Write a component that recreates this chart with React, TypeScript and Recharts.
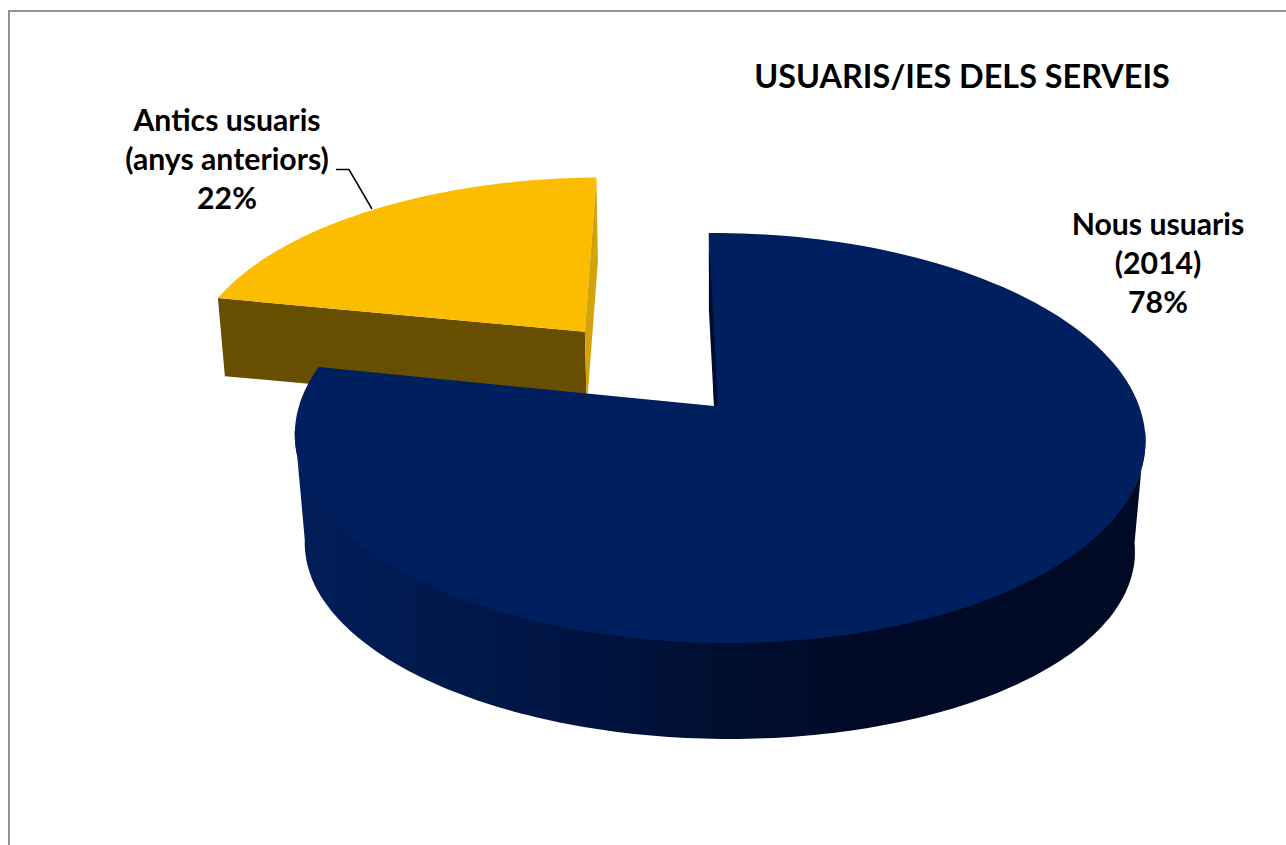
import { PieChart, Pie, Cell } from "recharts";

const CATEGORIES = ["Antics usuaris", "Nous usuaris"];
const SUBLABELS = ["(anys anteriors)", "(2014)"];
const VALUES = [21.75, 78.25];
const TOP_COLORS = ["#fcbd00", "#001f5f"];

const chartData = CATEGORIES.map((name, i) => ({ name, value: VALUES[i] }));

const FONT = "Lato, 'Open Sans', sans-serif";

// how far each slice is pulled out, as a share of the radius
const EXPLODE = [0.51, 0];
const LABEL_X = [227, 1158];
const LABEL_Y = [131, 235];
const LINE_H = 38.8;

// first slice ends at 12 o'clock, the big one runs on clockwise from there
const START_ANGLE = 90 + (VALUES[0] / 100) * 360;

// tilted plane -> screen, with a bit of perspective
const project = (u: number, v: number, h: number) => {
  const w = 1 + 0.156 * v - 0.012 * u + 0.024 * h;
  return [(420 * u - 6 * v) / w, (-200 * (1 - 0.13 * h) * v + 115 * h) / w];
};

const toPath = (pts: number[][]) =>
  "M" + pts.map((p) => `${p[0].toFixed(1)},${p[1].toFixed(1)}`).join("L") + "Z";

function Slice3D(props: any) {
  const { cx, cy, startAngle, endAngle, fill, index } = props;
  const rad = Math.PI / 180;
  // recharts angles -> clockwise from the top
  const a0 = (90 - startAngle) * rad;
  const a1 = (90 - endAngle) * rad;
  const mid = (a0 + a1) / 2;
  const off = EXPLODE[index];
  const pt = (a: number, r: number, h: number) => {
    const p = project(off * Math.sin(mid) + r * Math.sin(a), off * Math.cos(mid) + r * Math.cos(a), h);
    return [cx + p[0], cy + p[1]];
  };
  const arc = (from: number, to: number, h: number, reverse = false) => {
    const out: number[][] = [];
    const steps = 160;
    for (let i = 0; i <= steps; i++) {
      const t = reverse ? 1 - i / steps : i / steps;
      out.push(pt(from + (to - from) * t, 1, h));
    }
    return out;
  };
  const top = toPath([pt(0, 0, 0), ...arc(a0, a1, 0)]);

  if (index === 0) {
    const h = 0.66;
    return (
      <g>
        <path d={toPath([pt(a0, 1, 0), pt(a0, 1, h), pt(a0, 0, h), pt(a0, 0, 0)])} fill="#674e00" />
        <path d={top} fill={fill} />
        <path d={toPath([pt(a1, 1, 0), pt(a1, 1, h), pt(a1, 0, h), pt(a1, 0, 0)])} fill="#d4a20a" />
      </g>
    );
  }
  // only the front of the rim shows, tangent to tangent
  const f0 = 97 * rad;
  const f1 = 263 * rad;
  return (
    <g>
      <path d={toPath([...arc(f0, f1, -0.01), ...arc(f0, f1, 1, true)])} fill="url(#navySide)" />
      <path d={top} fill={fill} />
      <path
        d={toPath([pt(a0, 1, 0), pt(a0, 1, 0.62), pt(a0, 0, 0), [cx + 4, cy]])}
        fill="#000c2e"
      />
    </g>
  );
}

function SliceLabel(props: any) {
  const { index, percent } = props;
  const x = LABEL_X[index];
  const y = LABEL_Y[index];
  const lines = [CATEGORIES[index], SUBLABELS[index], `${Math.round(percent * 100)}%`];
  return (
    <g>
      {index === 0 && (
        <polyline points="336,169.5 349,169.5 372,209" fill="none" stroke="#000" strokeWidth={1.5} />
      )}
      <text
        x={x}
        y={y}
        textAnchor="middle"
        fontFamily={FONT}
        fontWeight={700}
        fontSize={30.2}
        fill="#000"
      >
        {lines.map((line, i) => (
          <tspan key={i} x={x} y={y + i * LINE_H}>
            {line}
          </tspan>
        ))}
      </text>
    </g>
  );
}

export default function App() {
  return (
    <div
      style={{
        position: "absolute",
        left: 0,
        top: 0,
        width: 1286,
        height: 845,
        overflow: "hidden",
        background: "#fff",
      }}
    >
      <div
        style={{
          position: "absolute",
          left: 8,
          top: 10,
          width: 1300,
          height: 900,
          border: "2px solid #919191",
        }}
      />
      <div style={{ position: "absolute", left: 0, top: 0 }}>
        <PieChart width={1286} height={845} margin={{ top: 0, right: 0, bottom: 0, left: 0 }}>
          <defs>
            <linearGradient id="navySide" gradientUnits="userSpaceOnUse" x1="295" y1="0" x2="1145" y2="0">
              <stop offset="0%" stopColor="#001e5a" />
              <stop offset="15%" stopColor="#001a4e" />
              <stop offset="35%" stopColor="#001340" />
              <stop offset="50%" stopColor="#000f30" />
              <stop offset="70%" stopColor="#000926" />
              <stop offset="100%" stopColor="#000a24" />
            </linearGradient>
          </defs>
          <text x={962} y={88} textAnchor="middle" fontFamily={FONT} fontWeight={700} fontSize={32.4} fill="#000">
            USUARIS/IES DELS SERVEIS
          </text>
          <Pie
            data={chartData}
            dataKey="value"
            nameKey="name"
            cx={714}
            cy={406}
            outerRadius={200}
            startAngle={START_ANGLE}
            endAngle={START_ANGLE - 360}
            stroke="none"
            rootTabIndex={-1}
            shape={Slice3D}
            label={SliceLabel}
            labelLine={false}
            isAnimationActive={false}
          >
            {chartData.map((d, i) => (
              <Cell key={d.name} fill={TOP_COLORS[i]} />
            ))}
          </Pie>
        </PieChart>
      </div>
    </div>
  );
}
